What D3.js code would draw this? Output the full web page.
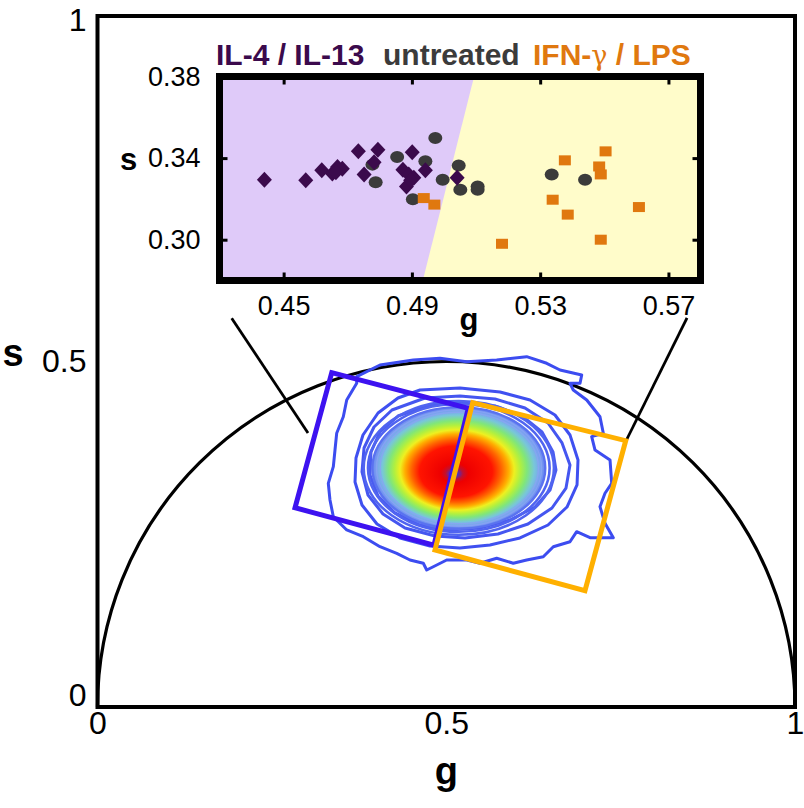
<!DOCTYPE html>
<html><head><meta charset="utf-8">
<script src="https://cdn.jsdelivr.net/npm/d3@7"></script>
<style>
body{margin:0;background:#fff}
svg{display:block}
text{font-family:"Liberation Sans",Arial,Helvetica,sans-serif}
</style>
</head><body>
<script>
// ---------------- DATA ----------------
const mainTicks = [0, 0.5, 1];
const insetXTicks = [0.45, 0.49, 0.53, 0.57];
const insetYTicks = [0.30, 0.34, 0.38];
const insetXDomain = [0.43, 0.58];
const insetYDomain = [0.28, 0.38];

const seriesNames = ["IL-4 / IL-13", "untreated", "IFN-γ / LPS"];

// IL-4 / IL-13 (diamonds) [g, s]
const il4Points = [
  [0.4440,0.3294],[0.4569,0.3291],[0.4619,0.3340],[0.4652,0.3324],[0.4668,0.3356],
  [0.4683,0.3348],[0.4663,0.3331],[0.4733,0.3434],[0.4751,0.3320],[0.4782,0.3380],
  [0.4794,0.3441],[0.4901,0.3429],[0.4872,0.3343],[0.4890,0.3320],[0.4906,0.3304],
  [0.4883,0.3261],[0.4896,0.3291],[0.4942,0.3340],[0.5041,0.3304]
];
// untreated (circles)
const untreatedPoints = [
  [0.4973,0.3498],[0.4854,0.3405],[0.4777,0.3368],[0.4787,0.3282],[0.4942,0.3385],
  [0.4903,0.3198],[0.4996,0.3294],[0.5046,0.3364],[0.5051,0.3245],[0.5105,0.3261],
  [0.5105,0.3245],[0.5336,0.3320],[0.5440,0.3294]
];
// IFN-gamma / LPS (squares)
const ifnPoints = [
  [0.4937,0.3204],[0.4970,0.3172],[0.5181,0.2980],[0.5377,0.3389],[0.5339,0.3196],
  [0.5386,0.3123],[0.5504,0.3433],[0.5484,0.3359],[0.5489,0.3320],[0.5489,0.3000],
  [0.5608,0.3160]
];
// class boundary in inset (g at s = 0.28 and s = 0.38)
const boundaryLine = [[0.4934,0.28],[0.5094,0.38]];

// selection boxes on the phasor plot [g, s]
const il4Box = [[0.3358,0.4838],[0.5316,0.4323],[0.4824,0.2342],[0.2832,0.2883]];
const ifnBox = [[0.5379,0.4404],[0.7573,0.3854],[0.6989,0.1683],[0.4839,0.2272]];
// pointer lines inset -> boxes
const pointerLeft = [[0.1924,0.5625],[0.3018,0.3965]];
const pointerRight = [[0.8452,0.5630],[0.7584,0.3864]];

// density contours (outer irregular levels) [g, s]
const contourOuter = [
  [0.3716,0.4780],[0.4050,0.4949],[0.4528,0.5022],[0.4910,0.5046],[0.5293,0.4997],
  [0.5723,0.5022],[0.6153,0.5070],[0.6440,0.4974],[0.6631,0.4877],[0.6942,0.4805],
  [0.6918,0.4685],[0.6774,0.4685],[0.6821,0.4588],[0.7014,0.4443],[0.7204,0.4201],
  [0.7252,0.3961],[0.7085,0.3912],[0.7133,0.3719],[0.7348,0.3575],[0.7372,0.3237],
  [0.7276,0.3093],[0.7204,0.2899],[0.7276,0.2658],[0.7395,0.2450],[0.7061,0.2450],
  [0.6870,0.2537],[0.6774,0.2392],[0.6535,0.2320],[0.6391,0.2175],[0.6153,0.2127],
  [0.5961,0.2080],[0.5723,0.2152],[0.5484,0.2080],[0.5293,0.2127],[0.5006,0.2127],
  [0.4814,0.2030],[0.4720,0.1983],[0.4671,0.2080],[0.4480,0.2127],[0.4290,0.2224],
  [0.4050,0.2320],[0.3811,0.2465],[0.3573,0.2562],[0.3381,0.2754],[0.3333,0.2996],
  [0.3309,0.3237],[0.3381,0.3478],[0.3405,0.3719],[0.3429,0.3961],[0.3524,0.4201],
  [0.3573,0.4443],[0.3716,0.4685]
];
const contourLevel4 = [
  [0.4624,0.4588],[0.5197,0.4617],[0.5771,0.4559],[0.6201,0.4443],[0.6559,0.4226],
  [0.6774,0.3936],[0.6889,0.3575],[0.6875,0.3213],[0.6731,0.2894],[0.6459,0.2634],
  [0.6057,0.2446],[0.5627,0.2344],[0.5197,0.2301],[0.4767,0.2330],[0.4337,0.2446],
  [0.4007,0.2648],[0.3792,0.2923],[0.3692,0.3256],[0.3706,0.3604],[0.3806,0.3936],
  [0.4022,0.4255],[0.4308,0.4472]
];
const contourLevel3 = [
  [0.4695,0.4472],[0.5197,0.4501],[0.5699,0.4457],[0.6129,0.4327],[0.6459,0.4110],
  [0.6660,0.3821],[0.6774,0.3502],[0.6717,0.3169],[0.6516,0.2880],[0.6172,0.2648],
  [0.5742,0.2504],[0.5269,0.2446],[0.4839,0.2475],[0.4409,0.2591],[0.4093,0.2793],
  [0.3878,0.3068],[0.3792,0.3401],[0.3821,0.3748],[0.3964,0.4052],[0.4222,0.4298]
];
const contourLevel2 = [
  [0.4767,0.4371],[0.5226,0.4399],[0.5699,0.4356],[0.6086,0.4211],[0.6373,0.3980],
  [0.6531,0.3690],[0.6573,0.3430],[0.6488,0.3140],[0.6272,0.2894],[0.5914,0.2706],
  [0.5484,0.2591],[0.5054,0.2562],[0.4624,0.2634],[0.4265,0.2808],[0.4022,0.3054],
  [0.3907,0.3357],[0.3921,0.3690],[0.4050,0.3980],[0.4308,0.4211]
];
// dense core of the distribution
const coreCenter = [0.518, 0.346];
const coreRadius = [0.124, 0.088];
const corePeak = [0.511, 0.337];
const coreRingLevels = [1.1, 1.05];   // near-core contour levels, relative to core size

// ---------------- LAYOUT / STYLE ----------------
const W = 804, H = 808;
const svg = d3.select("body").append("svg").attr("width", W).attr("height", H);

const x = d3.scaleLinear().domain([0, 1]).range([97.5, 795]);
const y = d3.scaleLinear().domain([0, 1]).range([707, 16]);

const line = d3.line().x(d => x(d[0])).y(d => y(d[1]));
const closed = d3.line().x(d => x(d[0])).y(d => y(d[1])).curve(d3.curveLinearClosed);

// frame
svg.append("rect")
  .attr("x", x(0)).attr("y", y(1))
  .attr("width", x(1) - x(0)).attr("height", y(0) - y(1))
  .attr("fill", "none").attr("stroke", "#000").attr("stroke-width", 4);

// universal semicircle
const rx = x(1) - x(0.5), ry = y(0) - y(0.5);
svg.append("path")
  .attr("d", `M${x(0)},${y(0)} A${rx},${ry} 0 0 1 ${x(1)},${y(0)}`)
  .attr("fill", "none").attr("stroke", "#000").attr("stroke-width", 3.2);

// density gradient
const defs = svg.append("defs");
const fxr = 0.5 + (x(corePeak[0]) - x(coreCenter[0])) / (2 * (x(coreCenter[0] + coreRadius[0]) - x(coreCenter[0])));
const fyr = 0.5 + (y(corePeak[1]) - y(coreCenter[1])) / (2 * (y(coreCenter[1]) - y(coreCenter[1] + coreRadius[1])));
const grad = defs.append("radialGradient").attr("id", "jet")
  .attr("cx", 0.5).attr("cy", 0.5).attr("r", 0.5)
  .attr("fx", fxr).attr("fy", fyr);
const stops = [
  [0, "#3030e0"], [0.04, "#4030d0"], [0.1, "#c01030"], [0.16, "#ee0000"],
  [0.42, "#ff1400"], [0.52, "#ff6400"], [0.6, "#ffae00"], [0.66, "#eef020"],
  [0.73, "#b0f040"], [0.8, "#80e67a"], [0.88, "#78c6da"], [0.95, "#7aa0f0"], [1, "#6a86f0"]
];
grad.selectAll("stop").data(stops).join("stop")
  .attr("offset", d => d[0]).attr("stop-color", d => d[1]);

const gC = svg.append("g");
[contourOuter, contourLevel4, contourLevel3, contourLevel2].forEach((c, i) => {
  gC.append("path").attr("d", closed(c))
    .attr("fill", "none").attr("stroke", ["#3c4cf0", "#3f50f0", "#4556f0", "#4a5cf0"][i])
    .attr("stroke-width", 3).attr("stroke-linejoin", "round");
});
const ecx = x(coreCenter[0]), ecy = y(coreCenter[1]);
const erx = x(coreCenter[0] + coreRadius[0]) - ecx;
const ery = ecy - y(coreCenter[1] + coreRadius[1]);
coreRingLevels.forEach(k => {
  gC.append("ellipse").attr("cx", ecx).attr("cy", ecy).attr("rx", erx * k).attr("ry", ery * k)
    .attr("fill", "none").attr("stroke", "#5064f0").attr("stroke-width", 2.6);
});
gC.append("ellipse").attr("cx", ecx).attr("cy", ecy).attr("rx", erx).attr("ry", ery)
  .attr("fill", "url(#jet)").attr("stroke", "#5a72f0").attr("stroke-width", 2.4);
[0.955, 0.915].forEach(k => {
  gC.append("ellipse").attr("cx", ecx + (1 - k) * 6).attr("cy", ecy).attr("rx", erx * k).attr("ry", ery * k)
    .attr("fill", "none").attr("stroke", "#8aa4f4").attr("stroke-width", 1.3).attr("opacity", 0.8);
});

// pointer lines
[pointerLeft, pointerRight].forEach(p => {
  svg.append("path").attr("d", line(p)).attr("stroke", "#000").attr("stroke-width", 2.8).attr("fill", "none");
});

// selection boxes
svg.append("path").attr("d", closed(il4Box)).attr("fill", "none")
  .attr("stroke", "#3d12f0").attr("stroke-width", 5).attr("stroke-linejoin", "miter");
svg.append("path").attr("d", closed(ifnBox)).attr("fill", "none")
  .attr("stroke", "#ffb000").attr("stroke-width", 5).attr("stroke-linejoin", "miter");

// main axes labels
const axL = svg.append("g").attr("transform", `translate(${x(0)},0)`)
  .call(d3.axisLeft(y).tickValues(mainTicks).tickSize(0).tickPadding(11).tickFormat(d3.format("")));
const axB = svg.append("g").attr("transform", `translate(0,${y(0)})`)
  .call(d3.axisBottom(x).tickValues(mainTicks).tickSize(0).tickPadding(4).tickFormat(d3.format("")));
[axL, axB].forEach(a => {
  a.select(".domain").remove();
  a.selectAll("text").attr("font-size", 32).attr("fill", "#000")
    .style("font-family", '"Liberation Sans",Arial,sans-serif');
});
axL.selectAll(".tick").filter(d => d === 0).select("text").attr("dy", "-0.05em");
axL.selectAll(".tick").filter(d => d === 1).select("text").attr("dy", "0.45em");
svg.append("text").attr("x", 13).attr("y", 366).attr("text-anchor", "middle")
  .attr("font-size", 38).attr("font-weight", "bold").text("s");
svg.append("text").attr("x", x(0.5)).attr("y", 784).attr("text-anchor", "middle")
  .attr("font-size", 38).attr("font-weight", "bold").text("g");

// ---------------- INSET ----------------
const xi = d3.scaleLinear().domain(insetXDomain).range([219.5, 700.5]);
const yi = d3.scaleLinear().domain(insetYDomain).range([280.5, 76.5]);
const gi = svg.append("g");

gi.append("rect").attr("x", xi(insetXDomain[0])).attr("y", yi(insetYDomain[1]))
  .attr("width", xi(insetXDomain[1]) - xi(insetXDomain[0]))
  .attr("height", yi(insetYDomain[0]) - yi(insetYDomain[1])).attr("fill", "#fffcca");
gi.append("path").attr("d", d3.line()([
  [xi(insetXDomain[0]), yi(insetYDomain[0])],
  [xi(boundaryLine[0][0]), yi(boundaryLine[0][1])],
  [xi(boundaryLine[1][0]), yi(boundaryLine[1][1])],
  [xi(insetXDomain[0]), yi(insetYDomain[1])]
]) + "Z").attr("fill", "#dfcaf9");

// markers
gi.selectAll("ellipse.unt").data(untreatedPoints).join("ellipse").attr("class", "unt")
  .attr("cx", d => xi(d[0])).attr("cy", d => yi(d[1])).attr("rx", 7).attr("ry", 6)
  .attr("fill", "#3b3b3b");
gi.selectAll("path.il4").data(il4Points).join("path").attr("class", "il4")
  .attr("transform", d => `translate(${xi(d[0])},${yi(d[1])})`)
  .attr("d", "M0,-8L7.5,0L0,8L-7.5,0Z").attr("fill", "#3b0a4c");
gi.selectAll("rect.ifn").data(ifnPoints).join("rect").attr("class", "ifn")
  .attr("x", d => xi(d[0]) - 6).attr("y", d => yi(d[1]) - 5).attr("width", 12).attr("height", 10)
  .attr("fill", "#e0780f");

// inset axes (inward ticks on all sides)
const mk = (axis, tr) => {
  const a = gi.append("g").attr("transform", tr).call(axis);
  a.select(".domain").remove();
  a.selectAll("line").attr("stroke", "#000").attr("stroke-width", 3);
  a.selectAll("text").attr("font-size", 27).attr("fill", "#000")
    .style("font-family", '"Liberation Sans",Arial,sans-serif');
  return a;
};
const fmt = d3.format(".2f");
mk(d3.axisBottom(xi).tickValues(insetXTicks).tickSizeInner(-8).tickSizeOuter(0).tickPadding(15).tickFormat(fmt), `translate(0,${yi(insetYDomain[0])})`);
mk(d3.axisTop(xi).tickValues(insetXTicks).tickSizeInner(-8).tickSizeOuter(0).tickFormat(""), `translate(0,${yi(insetYDomain[1])})`);
mk(d3.axisLeft(yi).tickValues(insetYTicks).tickSizeInner(-8).tickSizeOuter(0).tickPadding(19).tickFormat(fmt), `translate(${xi(insetXDomain[0])},0)`);
mk(d3.axisRight(yi).tickValues(insetYTicks).tickSizeInner(-8).tickSizeOuter(0).tickFormat(""), `translate(${xi(insetXDomain[1])},0)`);

gi.append("rect").attr("x", xi(insetXDomain[0])).attr("y", yi(insetYDomain[1]))
  .attr("width", xi(insetXDomain[1]) - xi(insetXDomain[0]))
  .attr("height", yi(insetYDomain[0]) - yi(insetYDomain[1]))
  .attr("fill", "none").attr("stroke", "#000").attr("stroke-width", 7);

gi.append("text").attr("x", 128.5).attr("y", 170).attr("text-anchor", "middle")
  .attr("font-size", 31).attr("font-weight", "bold").text("s");
gi.append("text").attr("x", 469).attr("y", 330).attr("text-anchor", "middle")
  .attr("font-size", 31).attr("font-weight", "bold").text("g");

// legend / title row
const lg = gi.append("g").attr("font-size", 30).attr("font-weight", "bold");
lg.append("text").attr("x", 216).attr("y", 65).attr("fill", "#3b0a4c").text(seriesNames[0]);
lg.append("text").attr("x", 383).attr("y", 65).attr("fill", "#3b3b3b").text(seriesNames[1]);
const t3 = lg.append("text").attr("x", 533).attr("y", 65).attr("fill", "#e0780f");
t3.append("tspan").text("IFN-");
t3.append("tspan").attr("font-weight", "normal").attr("font-family", "DejaVu Serif").attr("font-size", 27).text("γ");
t3.append("tspan").text(" / LPS");
</script>
</body></html>
